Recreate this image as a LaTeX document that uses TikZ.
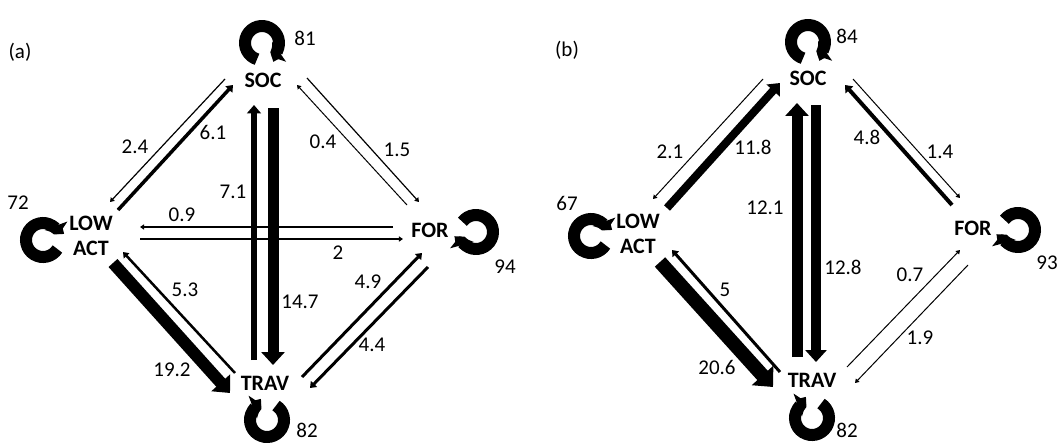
\documentclass[tikz,border=0pt]{standalone}
\usepackage{fontspec}
\setmainfont{Carlito}
\usetikzlibrary{arrows.meta}

\begin{document}
\begin{tikzpicture}[
  x=1pt, y=-1pt,
  font=\fontsize{21}{25}\selectfont,
  estado/.style={font=\fontsize{22}{25}\selectfont\bfseries, align=center, inner sep=0pt},
  num/.style={inner sep=0pt},
  fl/.style={-{Triangle[length=3pt 0.9, width=3pt 1.8]}},
  bucle/.style={line width=12pt, -{Triangle[length=9pt, width=24pt]}}
]
\useasboundingbox (0,0) rectangle (1057,442);

% ---- Panel (a) ----
\node[num] (etA) at (20,52) {(a)};
\node[estado] (socA) at (263,80) {SOC};
\node[estado] (lowA) at (91,236) {LOW\\ACT};
\node[estado] (forA) at (430,230) {FOR};
\node[estado] (travA) at (265,383) {TRAV};

\coordinate (bsocA) at (262,43);
\coordinate (blowA) at (43,240);
\coordinate (bforA) at (476,232);
\coordinate (btravA) at (267,420);
\draw[bucle] ([shift={(107:17)}]bsocA) arc[start angle=107, end angle=415, radius=17];
\draw[bucle] ([shift={(32:17)}]blowA) arc[start angle=32, end angle=340, radius=17];
\draw[bucle] ([shift={(-143:17)}]bforA) arc[start angle=-143, end angle=165, radius=17];
\draw[bucle] ([shift={(-58:17)}]btravA) arc[start angle=-58, end angle=250, radius=17];
\node[num] (rsocA) at (305,38) {81};
\node[num] (rlowA) at (18,203) {72};
\node[num] (rforA) at (505,267) {94};
\node[num] (rtravA) at (307,430) {82};

\draw[fl, line width=1.2pt] ([shift={(-38,-1)}]socA.center) -- ([shift={(19,-34)}]lowA.center);
\draw[fl, line width=3.5pt] ([shift={(27,-26)}]lowA.center) -- ([shift={(-30,5)}]socA.center);
\draw[fl, line width=6pt] ([shift={(-11,-23)}]travA.center) -- ([shift={(-9,25)}]socA.center);
\draw[fl, line width=11pt] ([shift={(10,28)}]socA.center) -- ([shift={(8,-18)}]travA.center);
\draw[fl, line width=1.2pt] ([shift={(-37,-3)}]forA.center) -- ([shift={(49,-9)}]lowA.center);
\draw[fl, line width=1.2pt] ([shift={(49,3)}]lowA.center) -- ([shift={(-27,9)}]forA.center);
\draw[fl, line width=12pt] ([shift={(22,27)}]lowA.center) -- ([shift={(-35,10)}]travA.center);
\draw[fl, line width=2.5pt] ([shift={(-30,-10)}]travA.center) -- ([shift={(32,16)}]lowA.center);
\draw[fl, line width=1.2pt] ([shift={(44,-2)}]socA.center) -- ([shift={(-11,-28)}]forA.center);
\draw[fl, line width=1pt] ([shift={(-23,-25)}]forA.center) -- ([shift={(34,5)}]socA.center);
\draw[fl, line width=3pt] ([shift={(37,-6)}]travA.center) -- ([shift={(-8,23)}]forA.center);
\draw[fl, line width=3pt] ([shift={(-2,37)}]forA.center) -- ([shift={(45,5)}]travA.center);

\node[num] (nSocLowA) at (135,147) {2.4};
\node[num] (nLowSocA) at (213,132) {6.1};
\node[num] (nTravSocA) at (233,192) {7.1};
\node[num] (nSocTravA) at (300,302) {14.7};
\node[num] (nForLowA) at (182,215) {0.9};
\node[num] (nLowForA) at (338,253) {2};
\node[num] (nTravLowA) at (185,290) {5.3};
\node[num] (nLowTravA) at (172,370) {19.2};
\node[num] (nForSocA) at (323,142) {0.4};
\node[num] (nSocForA) at (397,150) {1.5};
\node[num] (nTravForA) at (368,282) {4.9};
\node[num] (nForTravA) at (372,345) {4.4};

% ---- Panel (b) ----
\node[num] (etB) at (567,50) {(b)};
\node[estado] (socB) at (808,78) {SOC};
\node[estado] (lowB) at (638,234) {LOW\\ACT};
\node[estado] (forB) at (973,228) {FOR};
\node[estado] (travB) at (812,380) {TRAV};

\coordinate (bsocB) at (808,42);
\coordinate (blowB) at (591,236);
\coordinate (bforB) at (1018,230);
\coordinate (btravB) at (812,418);
\draw[bucle] ([shift={(107:17)}]bsocB) arc[start angle=107, end angle=415, radius=17];
\draw[bucle] ([shift={(32:17)}]blowB) arc[start angle=32, end angle=340, radius=17];
\draw[bucle] ([shift={(-143:17)}]bforB) arc[start angle=-143, end angle=165, radius=17];
\draw[bucle] ([shift={(-58:17)}]btravB) arc[start angle=-58, end angle=250, radius=17];
\node[num] (rsocB) at (847,36) {84};
\node[num] (rlowB) at (567,203) {67};
\node[num] (rforB) at (1047,263) {93};
\node[num] (rtravB) at (847,430) {82};

\draw[fl, line width=1pt] ([shift={(-45,1)}]socB.center) -- ([shift={(15,-35)}]lowB.center);
\draw[fl, line width=8pt] ([shift={(29,-26)}]lowB.center) -- ([shift={(-28,5)}]socB.center);
\draw[fl, line width=11pt] ([shift={(-15,-23)}]travB.center) -- ([shift={(-11,25)}]socB.center);
\draw[fl, line width=10pt] ([shift={(8,27)}]socB.center) -- ([shift={(4,-18)}]travB.center);
\draw[fl, line width=4pt] ([shift={(-21,-23)}]forB.center) -- ([shift={(37,7)}]socB.center);
\draw[fl, line width=1pt] ([shift={(45,1)}]socB.center) -- ([shift={(-13,-30)}]forB.center);
\draw[fl, line width=1pt] ([shift={(35,-13)}]travB.center) -- ([shift={(-13,22)}]forB.center);
\draw[fl, line width=1pt] ([shift={(-5,37)}]forB.center) -- ([shift={(43,3)}]travB.center);
\draw[fl, line width=14pt] ([shift={(22,28)}]lowB.center) -- ([shift={(-39,7)}]travB.center);
\draw[fl, line width=3pt] ([shift={(-32,-8)}]travB.center) -- ([shift={(34,16)}]lowB.center);

\node[num] (nSocLowB) at (670,152) {2.1};
\node[num] (nLowSocB) at (753,147) {11.8};
\node[num] (nTravSocB) at (765,208) {12.1};
\node[num] (nSocTravB) at (843,267) {12.8};
\node[num] (nForSocB) at (867,137) {4.8};
\node[num] (nSocForB) at (940,152) {1.4};
\node[num] (nTravForB) at (910,275) {0.7};
\node[num] (nForTravB) at (920,338) {1.9};
\node[num] (nLowTravB) at (717,367) {20.6};
\node[num] (nTravLowB) at (725,290) {5};
\end{tikzpicture}
\end{document}
